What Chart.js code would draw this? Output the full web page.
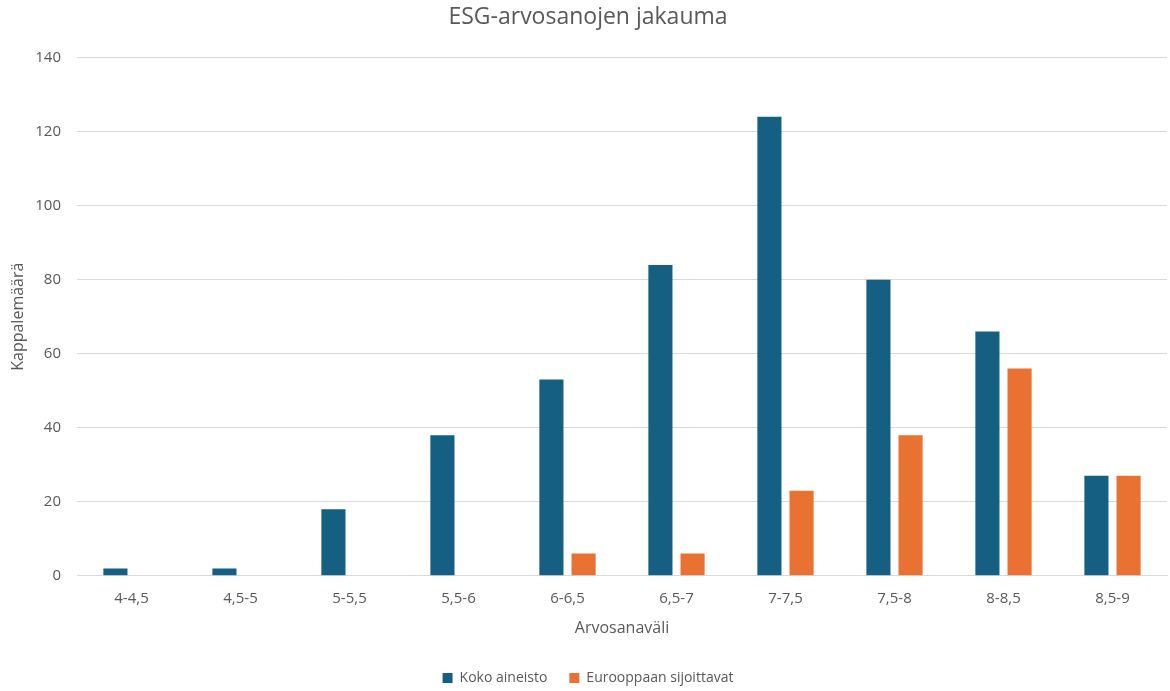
<!DOCTYPE html>
<html lang="fi">
<head>
  <meta charset="UTF-8" />
  <title>ESG-arvosanojen jakauma</title>
  <script src="https://cdn.jsdelivr.net/npm/chart.js"></script>
  <style>
    html, body { margin: 0; padding: 0; background: #fff; }
    #wrap { width: 1170px; height: 691px; }
  </style>
</head>
<body>
  <div id="wrap"><canvas id="chart"></canvas></div>

  <script>
    const categories = ['4-4,5', '4,5-5', '5-5,5', '5,5-6', '6-6,5', '6,5-7', '7-7,5', '7,5-8', '8-8,5', '8,5-9'];
    const kokoAineisto = [2, 2, 18, 38, 53, 84, 124, 80, 66, 27];
    const eurooppaan = [0, 0, 0, 0, 6, 6, 23, 38, 56, 27];
    const yTicks = [0, 20, 40, 60, 80, 100, 120, 140];

    const textColor = '#595959';
    Chart.defaults.font.family = '"Open Sans", Roboto, sans-serif';
    Chart.defaults.color = textColor;

    const ctx = document.getElementById('chart').getContext('2d');

    new Chart(ctx, {
      type: 'bar',
      data: {
        labels: categories,
        datasets: [
          {
            label: 'Koko aineisto',
            data: kokoAineisto,
            backgroundColor: '#156082',
            borderWidth: 0
          },
          {
            label: 'Eurooppaan sijoittavat',
            data: eurooppaan,
            backgroundColor: '#E97132',
            borderWidth: 0
          }
        ]
      },
      options: {
        responsive: true,
        maintainAspectRatio: false,
        animation: false,
        categoryPercentage: 0.59,
        barPercentage: 0.75,
        layout: { padding: { left: 9, right: 3, top: 4, bottom: -4 } },
        plugins: {
          title: {
            display: true,
            text: 'ESG-arvosanojen jakauma',
            color: textColor,
            font: { size: 23, weight: 'normal' },
            padding: { top: 0, bottom: 26 }
          },
          legend: {
            position: 'bottom',
            labels: {
              color: textColor,
              font: { size: 14 },
              boxWidth: 10,
              boxHeight: 10,
              padding: 22
            }
          },
          tooltip: { enabled: false }
        },
        scales: {
          x: {
            grid: { display: false },
            border: { color: '#d9d9d9' },
            ticks: { color: textColor, font: { size: 15 }, padding: 6 },
            title: {
              display: true,
              text: 'Arvosanaväli',
              color: textColor,
              font: { size: 16 },
              padding: { top: 5, bottom: 11 }
            }
          },
          y: {
            min: 0,
            max: 140,
            afterBuildTicks: axis => { axis.ticks = yTicks.map(v => ({ value: v })); },
            afterFit: axis => { axis.width = 68; },
            grid: { color: '#d9d9d9', drawTicks: false },
            border: { display: false },
            ticks: { color: textColor, font: { size: 15 }, padding: 16 },
            title: {
              display: true,
              text: 'Kappalemäärä',
              color: textColor,
              font: { size: 16 },
              padding: { top: 0, bottom: 4 }
            }
          }
        }
      }
    });
  </script>
</body>
</html>
